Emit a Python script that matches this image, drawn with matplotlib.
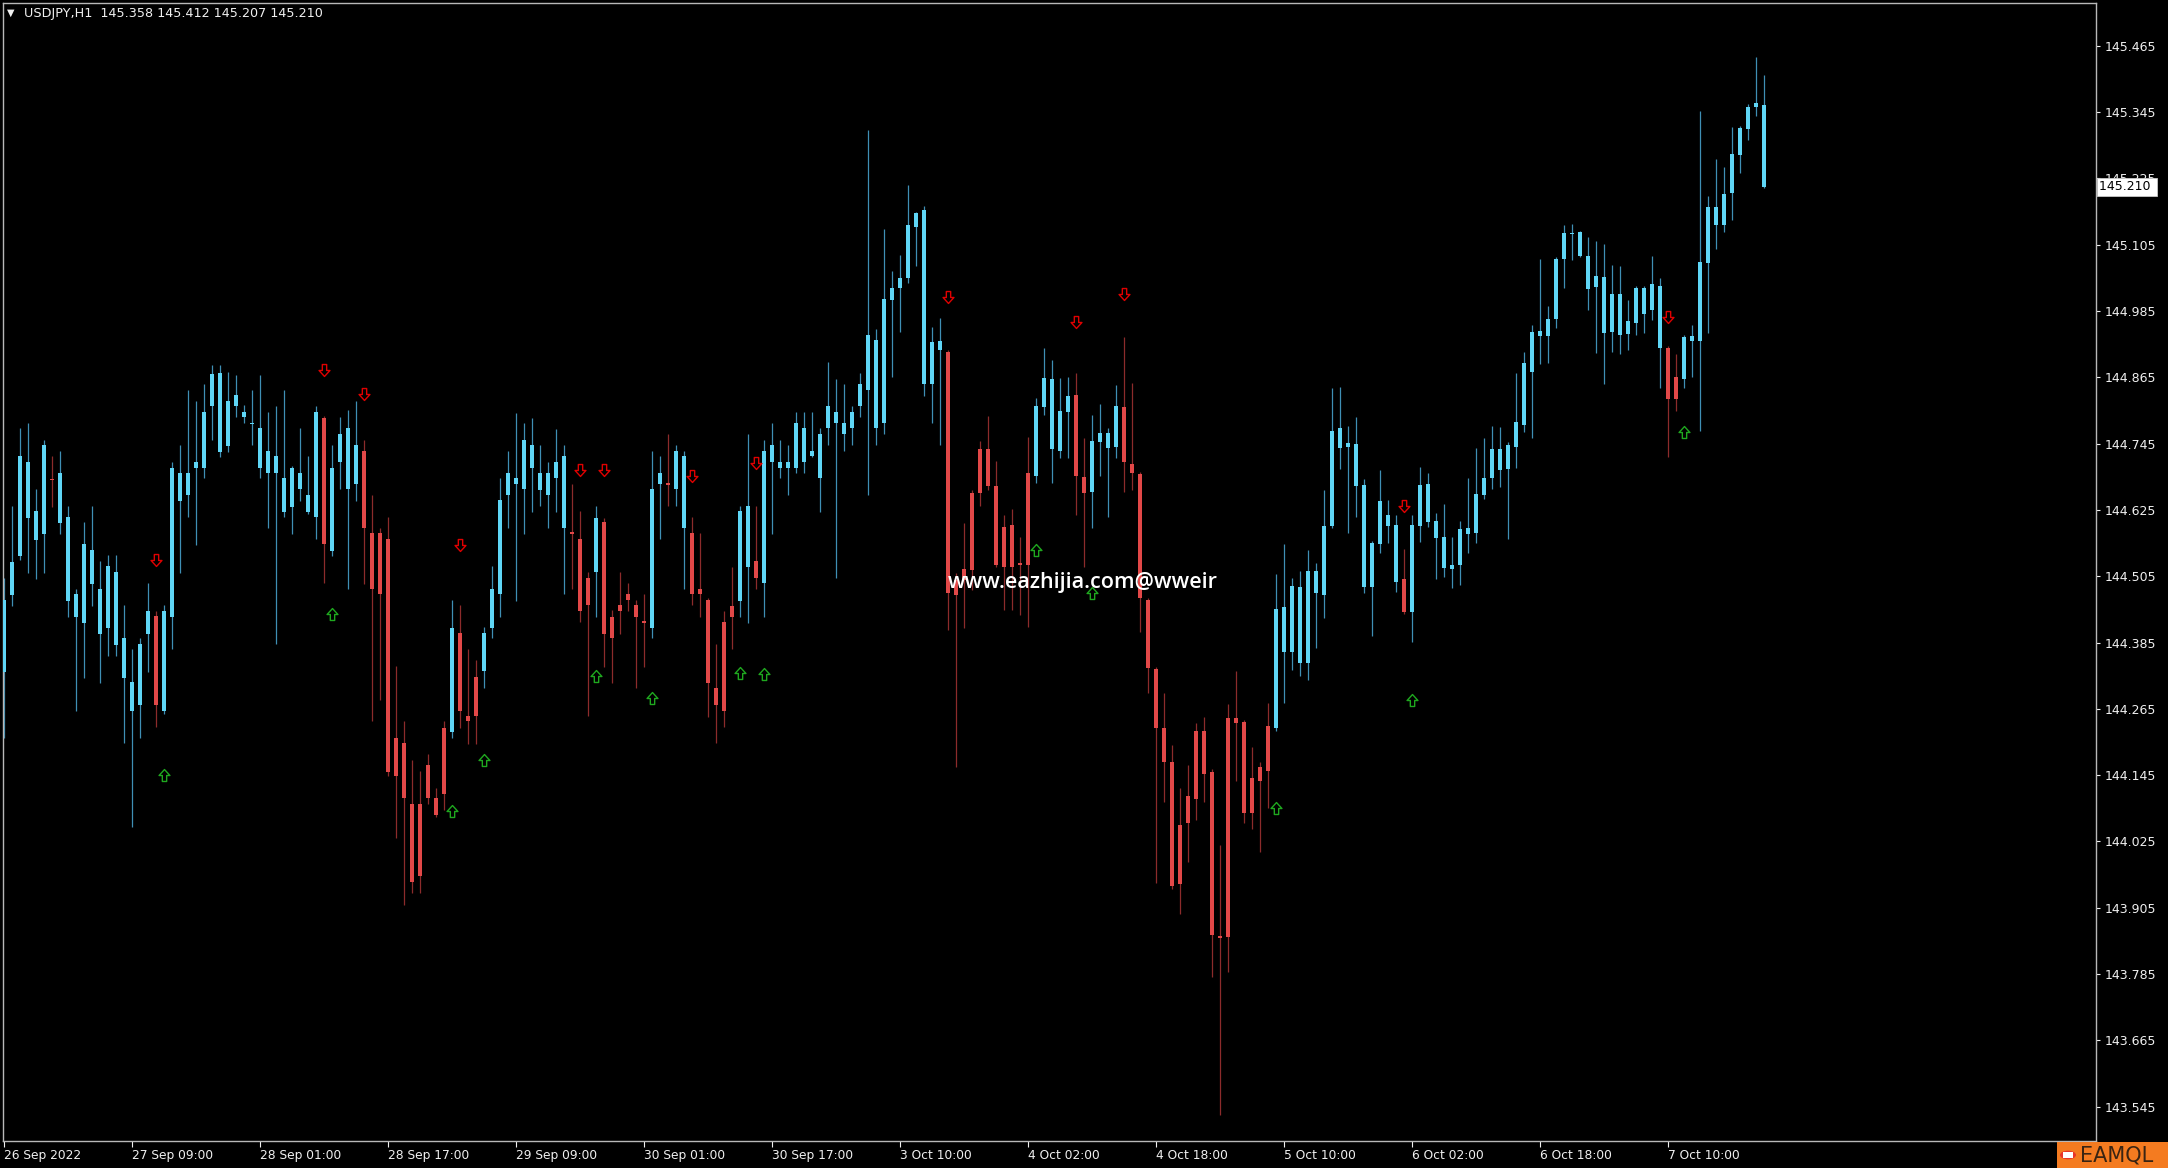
import matplotlib
matplotlib.use("Agg")
from matplotlib import pyplot as plt
from matplotlib.path import Path
from matplotlib.patches import Rectangle, Circle
from matplotlib.transforms import blended_transform_factory
import numpy as np

# USDJPY H1 bars (oldest first)
opens = [
    144.332, 144.471, 144.542, 144.610, 144.571, 144.581, 144.681, 144.601, 144.460, 144.431,
    144.420, 144.491, 144.400, 144.411, 144.381, 144.321, 144.261, 144.272, 144.400, 144.433,
    144.261, 144.431, 144.641, 144.652, 144.701, 144.701, 144.813, 144.730, 144.741, 144.813,
    144.793, 144.782, 144.701, 144.692, 144.692, 144.621, 144.630, 144.663, 144.621, 144.612,
    144.791, 144.551, 144.712, 144.663, 144.672, 144.732, 144.583, 144.583, 144.572, 144.212,
    144.203, 144.093, 144.093, 144.163, 144.104, 144.230, 144.223, 144.402, 144.252, 144.323,
    144.333, 144.411, 144.473, 144.652, 144.672, 144.663, 144.701, 144.661, 144.652, 144.683,
    144.592, 144.585, 144.572, 144.502, 144.513, 144.603, 144.431, 144.453, 144.473, 144.453,
    144.424, 144.411, 144.672, 144.674, 144.663, 144.592, 144.583, 144.482, 144.462, 144.303,
    144.422, 144.451, 144.460, 144.522, 144.533, 144.493, 144.712, 144.701, 144.701, 144.701,
    144.712, 144.723, 144.683, 144.773, 144.782, 144.762, 144.773, 144.813, 144.842, 144.773,
    144.782, 145.005, 145.027, 145.045, 145.137, 144.853, 144.853, 144.914, 144.911, 144.498,
    144.518, 144.656, 144.735, 144.735, 144.668, 144.594, 144.598, 144.529, 144.692, 144.686,
    144.811, 144.735, 144.732, 144.802, 144.833, 144.685, 144.657, 144.748, 144.737, 144.739,
    144.811, 144.708, 144.690, 144.462, 144.337, 144.230, 144.169, 144.055, 144.107, 144.225,
    144.225, 144.151, 143.854, 144.248, 144.248, 144.241, 144.140, 144.160, 144.234, 144.230,
    144.368, 144.368, 144.348, 144.348, 144.475, 144.471, 144.596, 144.737, 144.739, 144.668,
    144.485, 144.485, 144.563, 144.596, 144.495, 144.500, 144.440, 144.596, 144.603, 144.574,
    144.520, 144.518, 144.525, 144.581, 144.583, 144.652, 144.683, 144.697, 144.699, 144.739,
    144.779, 144.875, 144.940, 144.940, 144.971, 145.079, 145.124, 145.085, 145.025, 145.029,
    144.945, 144.947, 144.942, 144.943, 144.963, 144.980, 144.987, 144.918, 144.918, 144.866,
    144.862, 144.931, 144.931, 145.072, 145.141, 145.141, 145.199, 145.267, 145.315, 145.354,
    145.358,
]
highs = [
    144.502, 144.632, 144.773, 144.782, 144.663, 144.752, 144.723, 144.732, 144.632, 144.482,
    144.603, 144.632, 144.533, 144.543, 144.543, 144.453, 144.373, 144.393, 144.493, 144.442,
    144.453, 144.712, 144.743, 144.842, 144.822, 144.853, 144.887, 144.887, 144.875, 144.869,
    144.815, 144.842, 144.869, 144.802, 144.813, 144.842, 144.705, 144.773, 144.723, 144.813,
    144.795, 144.743, 144.793, 144.806, 144.822, 144.752, 144.652, 144.592, 144.612, 144.343,
    144.243, 144.172, 144.152, 144.183, 144.122, 144.243, 144.462, 144.453, 144.373, 144.353,
    144.413, 144.524, 144.683, 144.732, 144.800, 144.782, 144.791, 144.743, 144.712, 144.772,
    144.743, 144.672, 144.623, 144.513, 144.632, 144.610, 144.444, 144.513, 144.493, 144.462,
    144.473, 144.732, 144.723, 144.762, 144.743, 144.732, 144.612, 144.583, 144.465, 144.382,
    144.442, 144.522, 144.632, 144.762, 144.632, 144.752, 144.782, 144.752, 144.743, 144.802,
    144.802, 144.802, 144.773, 144.893, 144.862, 144.853, 144.813, 144.873, 145.313, 144.953,
    145.134, 145.057, 145.086, 145.213, 145.165, 145.175, 144.956, 144.972, 144.915, 144.511,
    144.601, 144.661, 144.750, 144.795, 144.714, 144.616, 144.627, 144.576, 144.757, 144.828,
    144.918, 144.896, 144.864, 144.866, 144.873, 144.755, 144.797, 144.817, 144.773, 144.851,
    144.938, 144.855, 144.693, 144.466, 144.340, 144.294, 144.200, 144.122, 144.163, 144.239,
    144.250, 144.156, 144.019, 144.274, 144.333, 144.244, 144.196, 144.169, 144.276, 144.509,
    144.563, 144.502, 144.514, 144.552, 144.529, 144.661, 144.846, 144.848, 144.777, 144.793,
    144.681, 144.568, 144.697, 144.643, 144.616, 144.554, 144.616, 144.703, 144.692, 144.619,
    144.636, 144.576, 144.605, 144.683, 144.737, 144.755, 144.777, 144.775, 144.748, 144.873,
    144.911, 144.960, 145.079, 144.994, 145.082, 145.141, 145.143, 145.130, 145.119, 145.112,
    145.106, 145.068, 145.067, 145.005, 145.030, 145.030, 145.085, 145.045, 144.921, 144.907,
    144.942, 144.960, 145.347, 145.193, 145.260, 145.246, 145.318, 145.320, 145.360, 145.445,
    145.412,
]
lows = [
    144.212, 144.451, 144.534, 144.511, 144.500, 144.511, 144.630, 144.581, 144.431, 144.261,
    144.321, 144.451, 144.312, 144.361, 144.361, 144.203, 144.051, 144.212, 144.332, 144.232,
    144.255, 144.373, 144.511, 144.612, 144.562, 144.683, 144.752, 144.721, 144.730, 144.793,
    144.782, 144.743, 144.683, 144.592, 144.382, 144.612, 144.581, 144.641, 144.618, 144.572,
    144.493, 144.542, 144.663, 144.482, 144.641, 144.491, 144.243, 144.281, 144.143, 144.031,
    143.910, 143.932, 143.932, 144.093, 144.070, 144.082, 144.212, 144.230, 144.201, 144.201,
    144.303, 144.393, 144.431, 144.592, 144.460, 144.581, 144.621, 144.632, 144.592, 144.621,
    144.473, 144.482, 144.422, 144.252, 144.431, 144.341, 144.312, 144.400, 144.442, 144.303,
    144.341, 144.393, 144.572, 144.632, 144.632, 144.482, 144.453, 144.431, 144.250, 144.203,
    144.232, 144.373, 144.431, 144.420, 144.482, 144.431, 144.581, 144.683, 144.652, 144.692,
    144.692, 144.720, 144.621, 144.743, 144.502, 144.732, 144.743, 144.793, 144.652, 144.743,
    144.762, 144.866, 144.947, 145.036, 145.067, 144.831, 144.782, 144.743, 144.408, 144.160,
    144.411, 144.480, 144.632, 144.661, 144.522, 144.444, 144.444, 144.435, 144.413, 144.674,
    144.797, 144.674, 144.719, 144.719, 144.616, 144.522, 144.592, 144.686, 144.612, 144.719,
    144.657, 144.661, 144.404, 144.294, 143.950, 144.096, 143.939, 143.894, 143.988, 144.064,
    144.096, 143.780, 143.530, 143.789, 144.134, 144.058, 144.048, 144.006, 144.086, 144.225,
    144.276, 144.335, 144.324, 144.317, 144.375, 144.429, 144.593, 144.699, 144.583, 144.612,
    144.475, 144.397, 144.547, 144.565, 144.476, 144.437, 144.386, 144.567, 144.594, 144.500,
    144.504, 144.484, 144.489, 144.547, 144.565, 144.645, 144.663, 144.666, 144.572, 144.701,
    144.766, 144.755, 144.889, 144.891, 144.954, 145.027, 145.077, 145.083, 144.987, 144.909,
    144.853, 144.911, 144.907, 144.914, 144.942, 144.945, 144.969, 144.846, 144.721, 144.804,
    144.846, 144.866, 144.768, 144.945, 145.097, 145.128, 145.150, 145.235, 145.295, 145.338,
    145.207,
]
closes = [
    144.462, 144.531, 144.723, 144.712, 144.623, 144.743, 144.679, 144.692, 144.612, 144.473,
    144.563, 144.552, 144.482, 144.524, 144.513, 144.393, 144.314, 144.382, 144.442, 144.272,
    144.442, 144.701, 144.692, 144.692, 144.712, 144.802, 144.871, 144.873, 144.822, 144.833,
    144.802, 144.780, 144.773, 144.732, 144.723, 144.683, 144.701, 144.692, 144.652, 144.802,
    144.563, 144.701, 144.762, 144.773, 144.743, 144.592, 144.482, 144.473, 144.151, 144.143,
    144.104, 143.952, 143.962, 144.104, 144.073, 144.111, 144.411, 144.261, 144.243, 144.252,
    144.402, 144.482, 144.643, 144.692, 144.683, 144.752, 144.743, 144.692, 144.692, 144.712,
    144.723, 144.581, 144.442, 144.453, 144.610, 144.400, 144.393, 144.442, 144.462, 144.431,
    144.420, 144.663, 144.692, 144.670, 144.732, 144.723, 144.473, 144.473, 144.312, 144.272,
    144.261, 144.431, 144.623, 144.632, 144.502, 144.732, 144.743, 144.712, 144.712, 144.782,
    144.773, 144.732, 144.762, 144.813, 144.802, 144.782, 144.802, 144.853, 144.942, 144.933,
    145.007, 145.027, 145.045, 145.141, 145.162, 145.168, 144.929, 144.931, 144.475, 144.471,
    144.498, 144.516, 144.656, 144.668, 144.525, 144.522, 144.522, 144.525, 144.525, 144.813,
    144.864, 144.862, 144.804, 144.831, 144.686, 144.656, 144.750, 144.764, 144.764, 144.813,
    144.712, 144.692, 144.466, 144.339, 144.230, 144.169, 143.944, 143.948, 144.058, 144.102,
    144.147, 143.856, 143.850, 143.852, 144.239, 144.076, 144.076, 144.134, 144.152, 144.446,
    144.449, 144.487, 144.485, 144.514, 144.514, 144.596, 144.768, 144.773, 144.746, 144.744,
    144.670, 144.565, 144.641, 144.616, 144.598, 144.440, 144.598, 144.670, 144.672, 144.605,
    144.576, 144.525, 144.591, 144.592, 144.654, 144.683, 144.735, 144.735, 144.743, 144.784,
    144.891, 144.947, 144.949, 144.971, 145.079, 145.126, 145.126, 145.128, 145.085, 145.048,
    145.047, 145.016, 145.016, 144.967, 145.027, 145.027, 145.034, 145.030, 144.826, 144.826,
    144.938, 144.940, 145.074, 145.173, 145.173, 145.197, 145.269, 145.316, 145.354, 145.362,
    145.210,
]
# candle colour given by the indicator, as runs of (count, colour): u = blue, d = red
trend_runs = [
    (6, "u"), (1, "d"), (12, "u"), (1, "d"), (20, "u"), (1, "d"), (4, "u"), (11, "d"),
    (1, "u"), (3, "d"), (11, "u"), (3, "d"), (1, "u"), (6, "d"), (2, "u"), (1, "d"),
    (2, "u"), (6, "d"), (2, "u"), (1, "d"), (23, "u"), (11, "d"), (5, "u"), (2, "d"),
    (4, "u"), (19, "d"), (16, "u"), (1, "d"), (32, "u"), (2, "d"), (11, "u"),
]

# signal arrows (bar index, price)
sell_bars = [19, 40, 45, 57, 72, 75, 86, 94, 118, 134, 140, 175, 208]
sell_prices = [144.534, 144.878, 144.835, 144.562, 144.697, 144.697, 144.686, 144.710,
               145.011, 144.965, 145.016, 144.632, 144.974]
buy_bars = [20, 41, 56, 60, 74, 81, 92, 95, 129, 136, 159, 176, 210]
buy_prices = [144.145, 144.437, 144.080, 144.172, 144.324, 144.285, 144.330, 144.328,
              144.552, 144.475, 144.086, 144.281, 144.766]

time_labels = ["26 Sep 2022", "27 Sep 09:00", "28 Sep 01:00", "28 Sep 17:00", "29 Sep 09:00",
               "30 Sep 01:00", "30 Sep 17:00", "3 Oct 10:00", "4 Oct 02:00", "4 Oct 18:00",
               "5 Oct 10:00", "6 Oct 02:00", "6 Oct 18:00", "7 Oct 10:00"]
bars_per_label = 16
price_ticks = [143.545, 143.665, 143.785, 143.905, 144.025, 144.145, 144.265, 144.385,
               144.505, 144.625, 144.745, 144.865, 144.985, 145.105, 145.225, 145.345, 145.465]

symbol = "USDJPY,H1"
watermark = "www.eazhijia.com@wweir"

# colours
BG = "#000000"
UP_BODY = "#5fd6f6"
UP_WICK = "#3f8fb4"
DN_BODY = "#e24848"
DN_WICK = "#8c2b2b"
FG = "#f0f0f0"
FRAME = "#b8b8b8"

W, H = 2168, 1168


def arrow_path(down=True):
    pts = [(-0.2, 0.55), (0.2, 0.55), (0.2, 0.0), (0.5, 0.0), (0.0, -0.55),
           (-0.5, 0.0), (-0.2, 0.0), (-0.2, 0.55)]
    if not down:
        pts = [(px, -py) for px, py in pts]
    codes = [Path.MOVETO] + [Path.LINETO] * 6 + [Path.CLOSEPOLY]
    return Path(pts, codes)


fig = plt.figure(figsize=(W / 100, H / 100), dpi=100, facecolor=BG)
ax = fig.add_axes([2.5 / W, 27 / H, 2093.5 / W, 1138 / H], facecolor=BG)

o = np.array(opens)
hi = np.array(highs)
lo = np.array(lows)
c = np.array(closes)
x = np.arange(len(o))
trend = "".join(col * n for n, col in trend_runs)
up = np.array([t == "u" for t in trend])
dn = ~up

body_bottom = np.minimum(o, c)
body_height = np.maximum(np.abs(c - o), 0.0025)

# wicks then bodies
ax.vlines(x[up], lo[up], hi[up], color=UP_WICK, linewidth=0.9, zorder=2)
ax.vlines(x[dn], lo[dn], hi[dn], color=DN_WICK, linewidth=0.9, zorder=2)
ax.bar(x[up], body_height[up], bottom=body_bottom[up], width=0.62, color=UP_BODY,
       linewidth=0, zorder=3)
ax.bar(x[dn], body_height[dn], bottom=body_bottom[dn], width=0.62, color=DN_BODY,
       linewidth=0, zorder=3)

# arrows
ax.plot(sell_bars, sell_prices, linestyle="none", marker=arrow_path(True), markersize=8.6,
        markerfacecolor="none", markeredgecolor="#e00000", markeredgewidth=1.0, zorder=4)
ax.plot(buy_bars, buy_prices, linestyle="none", marker=arrow_path(False), markersize=8.6,
        markerfacecolor="none", markeredgecolor="#1fa81f", markeredgewidth=1.0, zorder=4)

ax.set_xlim(-0.19, 261.5)
ax.set_ylim(143.4828, 145.5426)

# axes styling
for sp in ax.spines.values():
    sp.set_color(FRAME)
    sp.set_linewidth(1.0)
ax.yaxis.tick_right()
ax.set_yticks(price_ticks)
ax.set_yticklabels(["%.3f" % p for p in price_ticks])
ax.tick_params(axis="y", colors=FG, labelsize=9, length=3, width=0.8, pad=3)
ax.set_xticks([k * bars_per_label for k in range(len(time_labels))])
ax.set_xticklabels(time_labels, ha="left")
ax.tick_params(axis="x", colors=FG, labelsize=8.8, length=4, width=0.8, pad=2)

# current price marker on the scale
tr = blended_transform_factory(ax.transAxes, ax.transData)
ax.text(1.0015, closes[-1], "%.3f " % closes[-1], transform=tr, ha="left", va="center",
        fontsize=9, color="black", zorder=10, clip_on=False,
        bbox=dict(boxstyle="square,pad=0.18", fc="white", ec="#c8c8c8", lw=0.6))

# header
fig.text(7 / W, 1 - 13 / H, "\u25bc", color=FG, fontsize=7, va="center", ha="left")
head = "%s  %.3f %.3f %.3f %.3f" % (symbol, opens[-1], highs[-1], lows[-1], closes[-1])
fig.text(24 / W, 1 - 14 / H, head, color=FG, fontsize=9.2, va="center", ha="left")

# watermark
ax.text(0.516, 0.491, watermark, transform=ax.transAxes, ha="center", va="center",
        color="white", fontsize=15.5, family=["Open Sans", "DejaVu Sans"],
        fontweight="semibold", zorder=6)

# EAMQL badge bottom right
fig.patches.append(Rectangle((2057 / W, 0), 111 / W, 26 / H, transform=fig.transFigure,
                             facecolor="#f47b20", edgecolor="none", zorder=5))
fig.patches.append(Circle((2068 / W, 13 / H), 8 / W, transform=fig.transFigure,
                          facecolor="#e8342a", edgecolor="none", zorder=6))
fig.patches.append(Rectangle((2063 / W, 10 / H), 10 / W, 6 / H, transform=fig.transFigure,
                             facecolor="white", edgecolor="none", zorder=7))
fig.text(2080 / W, 13 / H, "EAMQL", color="#3a2412", fontsize=15, va="center",
         ha="left", zorder=8)

fig.savefig("out.png", dpi=100, facecolor=BG)
